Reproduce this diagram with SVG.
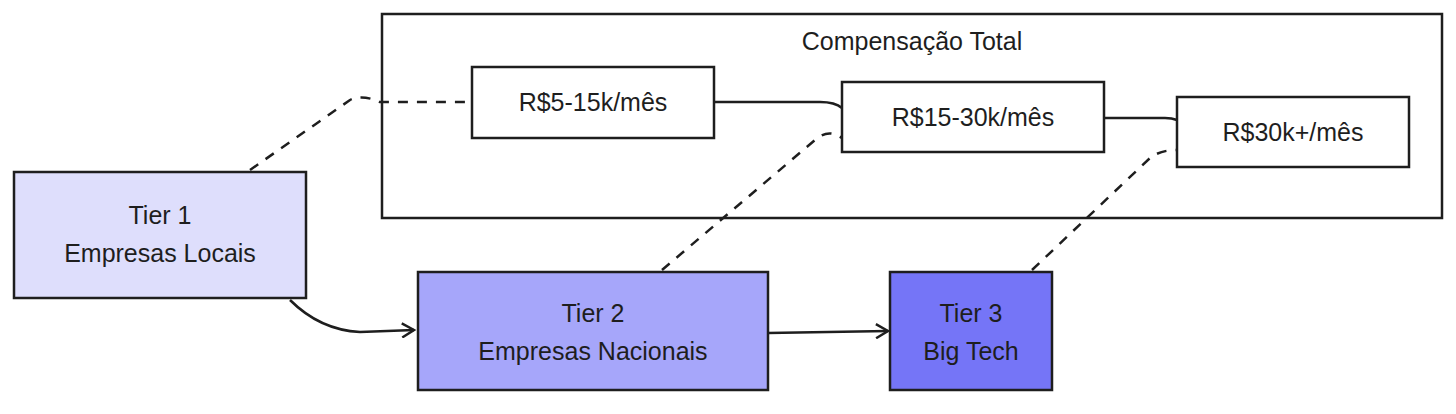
<svg xmlns="http://www.w3.org/2000/svg" width="1456" height="414" viewBox="0 0 1456 414">
<style>
.b{stroke:#1e1e1e;stroke-width:2.5;}
.t{font-family:"Liberation Sans",sans-serif;font-size:25px;fill:#1e1e1e;text-anchor:middle;}
.c{fill:none;stroke:#1e1e1e;stroke-width:2.5;}
.d{stroke-dasharray:10 9;}
</style>
<defs><marker id="a" markerWidth="16" markerHeight="16" refX="14" refY="8" orient="auto" markerUnits="userSpaceOnUse"><path d="M2,1 L14,8 L2,15" fill="none" stroke="#1e1e1e" stroke-width="2.5"/></marker></defs>
<rect width="1456" height="414" fill="#fff"/>
<g id="container"><rect class="b" x="382" y="14" width="1060" height="204" fill="none"/><text class="t" x="912" y="50">Compensação Total</text></g>
<g id="c1"><rect class="b" x="472" y="67" width="242" height="71" fill="#fff"/><text class="t" x="593" y="111">R$5-15k/mês</text></g>
<g id="c2"><rect class="b" x="842" y="82" width="262" height="70" fill="#fff"/><text class="t" x="973" y="126">R$15-30k/mês</text></g>
<g id="c3"><rect class="b" x="1177" y="97" width="232" height="70" fill="#fff"/><text class="t" x="1293" y="141">R$30k+/mês</text></g>
<g id="tier1"><rect class="b" x="14" y="172" width="292" height="126" fill="#dedefc"/><text class="t" x="160" y="224">Tier 1</text><text class="t" x="160" y="262">Empresas Locais</text></g>
<g id="tier2"><rect class="b" x="418" y="272" width="350" height="118" fill="#a6a6fa"/><text class="t" x="593" y="322">Tier 2</text><text class="t" x="593" y="360">Empresas Nacionais</text></g>
<g id="tier3"><rect class="b" x="890" y="272" width="162" height="118" fill="#7575f7"/><text class="t" x="971" y="322">Tier 3</text><text class="t" x="971" y="360">Big Tech</text></g>
<g id="connectors">
<path class="c d" d="M250,170 L350,100 Q362,94 380,102 L472,102"/>
<path class="c" d="M714,102 L820,102 Q835,102 842,108"/>
<path class="c" d="M1104,118 L1165,118 Q1172,118 1177,120"/>
<path class="c d" d="M662,270 L815,140 Q828,128 842,138"/>
<path class="c d" d="M1032,270 L1150,158 Q1160,150 1177,150"/>
<path class="c" d="M290,300 Q320,330 360,332 L414,330" marker-end="url(#a)"/>
<path class="c" d="M768,333 L888,331" marker-end="url(#a)"/>
</g>
</svg>
